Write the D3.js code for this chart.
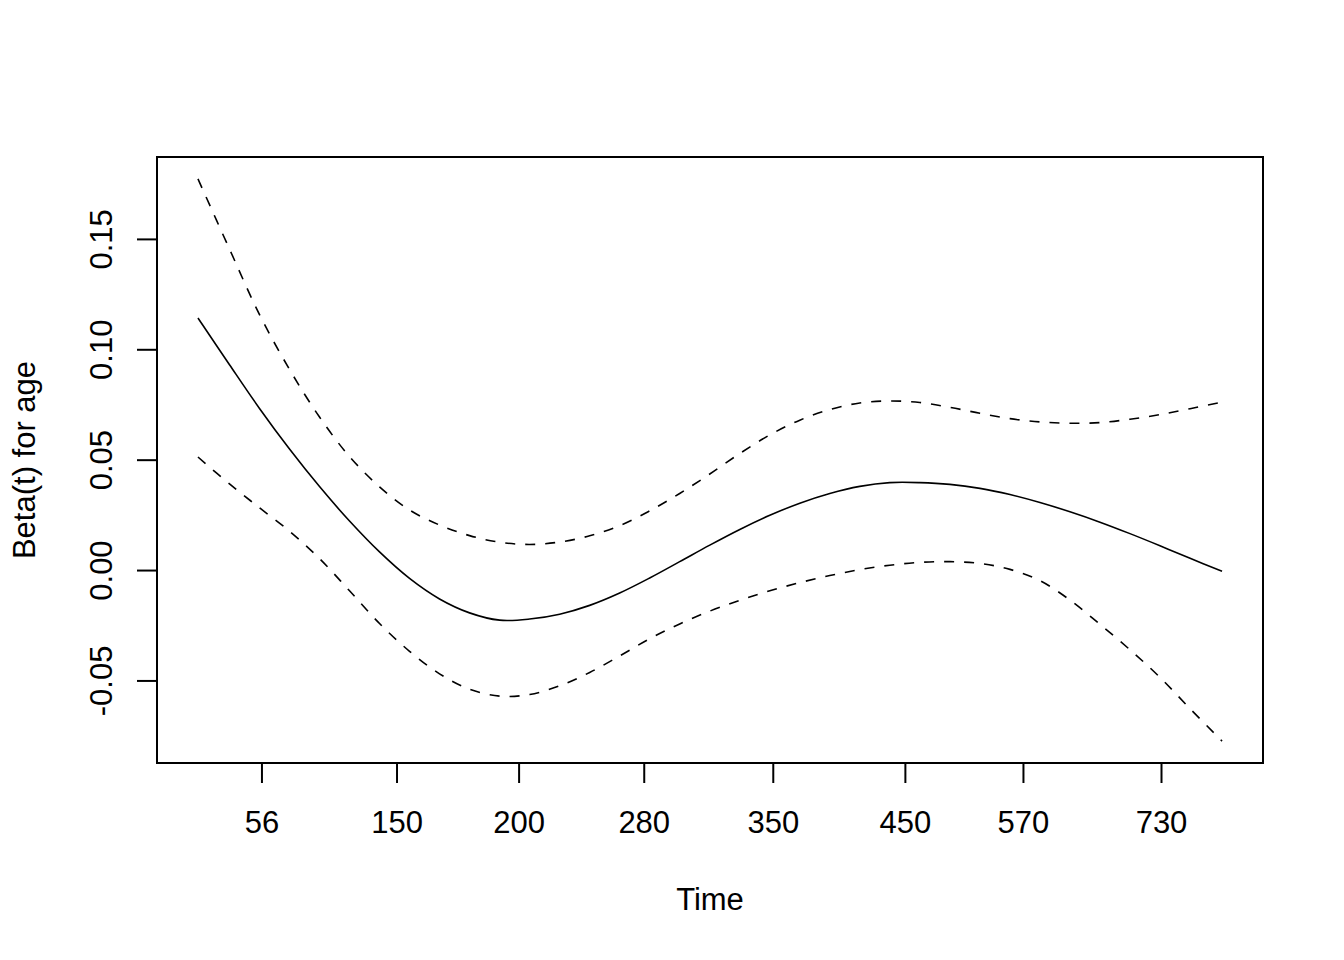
<!DOCTYPE html>
<html>
<head>
<meta charset="utf-8">
<script src="https://cdn.jsdelivr.net/npm/d3@7"></script>
<style>
  html, body { margin: 0; padding: 0; background: #fff; }
  svg text { font-family: "Liberation Sans", Arial, sans-serif; fill: #000; }
</style>
</head>
<body>
<svg id="chart" width="1344" height="960"></svg>
<script>
// transformed time (0..1 over the fitted range)
const timeT = [0, 0.0308, 0.0601, 0.0894, 0.1187, 0.1480, 0.1773, 0.2066, 0.2359, 0.2652,
  0.2946, 0.3239, 0.3532, 0.3825, 0.4118, 0.4411, 0.4704, 0.4998, 0.5291, 0.5584,
  0.5877, 0.6170, 0.6463, 0.6756, 0.7049, 0.7343, 0.7636, 0.7929, 0.8222, 0.8515,
  0.8808, 0.9101, 0.9394, 0.9688, 1.0];

const beta = [0.1142, 0.0930, 0.0732, 0.0548, 0.0378, 0.0222, 0.0082, -0.0038, -0.0131, -0.0194,
  -0.0227, -0.0222, -0.0200, -0.0160, -0.0104, -0.0036, 0.0038, 0.0113, 0.0184, 0.0248,
  0.0303, 0.0347, 0.0379, 0.0396, 0.0396, 0.0388, 0.0370, 0.0342, 0.0306, 0.0264,
  0.0217, 0.0165, 0.0110, 0.0053, -0.0005];

const upper = [0.1772, 0.1454, 0.1157, 0.0909, 0.0693, 0.0514, 0.0377, 0.0272, 0.0204, 0.0156,
  0.0126, 0.0116, 0.0127, 0.0155, 0.0201, 0.0268, 0.0347, 0.0435, 0.0528, 0.0612,
  0.0679, 0.0727, 0.0757, 0.0766, 0.0759, 0.0737, 0.0710, 0.0686, 0.0671, 0.0665,
  0.0668, 0.0683, 0.0704, 0.0731, 0.0761];

const lower = [0.0512, 0.0390, 0.0282, 0.0176, 0.0052, -0.0094, -0.0242, -0.0368, -0.0470, -0.0540,
  -0.0571, -0.0564, -0.0524, -0.0464, -0.0389, -0.0311, -0.0244, -0.0186, -0.0137, -0.0094,
  -0.0057, -0.0025, 0.0002, 0.0022, 0.0035, 0.0038, 0.0030, 0.0003, -0.0048, -0.0136,
  -0.0246, -0.0361, -0.0486, -0.0628, -0.0775];

const xTickPos = [0.0620, 0.1939, 0.3131, 0.4353, 0.5613, 0.6903, 0.8056, 0.9404];
const xTickLabels = ["56", "150", "200", "280", "350", "450", "570", "730"];
const yTicks = [-0.05, 0.00, 0.05, 0.10, 0.15];

const xLabel = "Time";
const yLabel = "Beta(t) for age";

const svg = d3.select("#chart");
const pL = 157, pR = 1263, pT = 157, pB = 763;

const x = d3.scaleLinear().domain([-0.04, 1.04]).range([pL, pR]);
const y = d3.scaleLinear().domain([-0.0874, 0.1871]).range([pB, pT]);

const fontSize = 31;
const fmt = d3.format(".2f");

// box
svg.append("rect")
  .attr("x", pL).attr("y", pT)
  .attr("width", pR - pL).attr("height", pB - pT)
  .attr("fill", "none").attr("stroke", "#000").attr("stroke-width", 2);

// x axis
const xAxis = d3.axisBottom(x)
  .tickValues(xTickPos)
  .tickFormat((d, i) => xTickLabels[i])
  .tickSize(20).tickPadding(6);
const gx = svg.append("g").attr("transform", `translate(0,${pB})`).call(xAxis);
gx.select(".domain").remove();
gx.selectAll(".tick line").attr("stroke", "#000").attr("stroke-width", 2);
gx.selectAll(".tick text")
  .attr("font-size", fontSize)
  .attr("font-family", "Liberation Sans, Arial, sans-serif")
  .attr("y", 70).attr("dy", null);

// y axis
const yAxis = d3.axisLeft(y)
  .tickValues(yTicks)
  .tickFormat(d => fmt(d).replace("\u2212", "-"))
  .tickSize(20);
const gy = svg.append("g").attr("transform", `translate(${pL},0)`).call(yAxis);
gy.select(".domain").remove();
gy.selectAll(".tick line").attr("stroke", "#000").attr("stroke-width", 2);
gy.selectAll(".tick text")
  .attr("font-size", fontSize)
  .attr("font-family", "Liberation Sans, Arial, sans-serif")
  .attr("text-anchor", "middle")
  .attr("x", null).attr("dy", null)
  .attr("transform", "translate(-45,0) rotate(-90)");

// curves
const pts = arr => timeT.map((t, i) => [t, arr[i]]);
const line = d3.line().x(d => x(d[0])).y(d => y(d[1])).curve(d3.curveCatmullRom);

svg.append("path").attr("d", line(pts(beta)))
  .attr("fill", "none").attr("stroke", "#000").attr("stroke-width", 1.6);
[upper, lower].forEach(arr => {
  svg.append("path").attr("d", line(pts(arr)))
    .attr("fill", "none").attr("stroke", "#000").attr("stroke-width", 1.6)
    .attr("stroke-dasharray", "10,10");
});

// labels
svg.append("text")
  .attr("x", (pL + pR) / 2).attr("y", 910)
  .attr("text-anchor", "middle").attr("font-size", fontSize)
  .text(xLabel);
svg.append("text")
  .attr("transform", `translate(35,${(pT + pB) / 2}) rotate(-90)`)
  .attr("text-anchor", "middle").attr("font-size", fontSize)
  .text(yLabel);
</script>
</body>
</html>
